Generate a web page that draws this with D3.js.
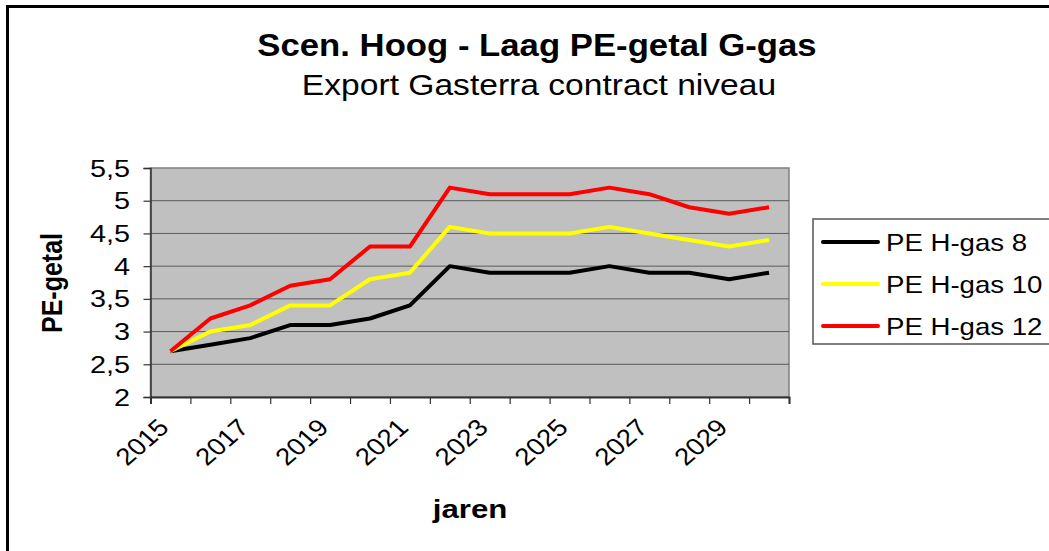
<!DOCTYPE html>
<html>
<head>
<meta charset="utf-8">
<script src="https://cdn.jsdelivr.net/npm/d3@7"></script>
<style>
  html, body { margin: 0; padding: 0; background: #fff; }
  svg { display: block; font-family: "Liberation Sans", Arial, sans-serif; }
</style>
</head>
<body>
<div id="vis"></div>
<script>
const years = [2015, 2016, 2017, 2018, 2019, 2020, 2021, 2022, 2023, 2024, 2025, 2026, 2027, 2028, 2029, 2030]
const tickYears = [2015, 2017, 2019, 2021, 2023, 2025, 2027, 2029]
const yTicks = [2, 2.5, 3, 3.5, 4, 4.5, 5, 5.5]
const seriesNames = ["PE H-gas 8", "PE H-gas 10", "PE H-gas 12"]
const seriesColors = ["#000000", "#ffff00", "#ff0000"]
const peGas8 = [2.7, 2.8, 2.9, 3.1, 3.1, 3.2, 3.4, 4.0, 3.9, 3.9, 3.9, 4.0, 3.9, 3.9, 3.8, 3.9]
const peGas10 = [2.7, 3.0, 3.1, 3.4, 3.4, 3.8, 3.9, 4.6, 4.5, 4.5, 4.5, 4.6, 4.5, 4.4, 4.3, 4.4]
const peGas12 = [2.7, 3.2, 3.4, 3.7, 3.8, 4.3, 4.3, 5.2, 5.1, 5.1, 5.1, 5.2, 5.1, 4.9, 4.8, 4.9]

const W = 1049, H = 551
const plot = {left: 150.5, right: 789, top: 168, bottom: 397}

const svg = d3.select('#vis')
    .append('svg')
    .attr('width', W)
    .attr('height', H)

// outer chart border (runs off the right and bottom edges)
svg.append('rect')
    .attr('x', 7.5)
    .attr('y', 6.5)
    .attr('width', 1100)
    .attr('height', 600)
    .attr('fill', 'none')
    .attr('stroke', '#000')
    .attr('stroke-width', 3)

const xScale = d3.scaleBand()
    .domain(years)
    .range([plot.left, plot.right])

const yScale = d3.scaleLinear()
    .domain([2, 5.5])
    .range([plot.bottom, plot.top])

// the original picture is stretched sideways, so text gets a horizontal scale
function addText(x, y, txt, size, opts = {}) {
    const sx = opts.stretch || 1.2
    return svg.append('text')
        .attr('transform', `translate(${x},${y}) scale(${sx},1)` + (opts.rotate ? ` rotate(${opts.rotate})` : ''))
        .attr('text-anchor', opts.anchor || 'middle')
        .attr('font-weight', opts.bold ? 'bold' : 'normal')
        .style('font-size', size + 'px')
        .attr('fill', '#000')
        .text(txt)
}

// plot area
svg.append('rect')
    .attr('x', plot.left)
    .attr('y', plot.top)
    .attr('width', plot.right - plot.left)
    .attr('height', plot.bottom - plot.top)
    .attr('fill', '#c0c0c0')
    .attr('stroke', '#808080')
    .attr('stroke-width', 1.5)

svg.selectAll('.grid')
    .data(yTicks.filter(d => d > 2 && d < 5.5))
    .enter()
    .append('line')
    .attr('class', 'grid')
    .attr('x1', plot.left)
    .attr('x2', plot.right)
    .attr('y1', d => yScale(d))
    .attr('y2', d => yScale(d))
    .attr('stroke', '#5a5a5a')
    .attr('stroke-width', 1)

// y axis
const yAxis = svg.append('g')
    .attr('transform', `translate(${plot.left},0)`)
    .call(d3.axisLeft(yScale).tickValues(yTicks).tickSize(7).tickFormat(''))
yAxis.select('.domain').attr('stroke', '#333').attr('stroke-width', 1.5)
yAxis.selectAll('.tick line').attr('stroke', '#333').attr('stroke-width', 1.2)

yTicks.forEach(v => {
    addText(130, yScale(v) + 8.5, String(v).replace('.', ','), 24, {anchor: 'end'})
})

// x axis: ticks between the categories
const xEdges = years.map(y => xScale(y)).concat([plot.right])
const xAxis = svg.append('g')
    .attr('transform', `translate(0,${plot.bottom})`)
    .call(d3.axisBottom(d3.scaleLinear().domain([plot.left, plot.right]).range([plot.left, plot.right]))
        .tickValues(xEdges).tickSize(7).tickFormat(''))
xAxis.select('.domain').attr('stroke', '#333').attr('stroke-width', 2)
xAxis.selectAll('.tick line').attr('stroke', '#333').attr('stroke-width', 1.2)

tickYears.forEach(yr => {
    addText(xScale(yr) + xScale.bandwidth() / 2, 429, yr, 24, {anchor: 'end', rotate: -45, stretch: 1.15})
})

// lines
const allSeries = [peGas8, peGas10, peGas12]
const line = d3.line()
    .x((d, i) => xScale(years[i]) + xScale.bandwidth() / 2)
    .y(d => yScale(d))

svg.selectAll('.line')
    .data(allSeries)
    .enter()
    .append('path')
    .attr('class', 'line')
    .attr('d', line)
    .attr('fill', 'none')
    .attr('stroke', (d, i) => seriesColors[i])
    .attr('stroke-width', 4)
    .attr('stroke-linejoin', 'round')

// titles
addText(537, 56, 'Scen. Hoog - Laag PE-getal G-gas', 31, {bold: true, stretch: 1.12})
addText(539, 95, 'Export Gasterra contract niveau', 30, {stretch: 1.12})
addText(470, 518, 'jaren', 26, {bold: true})
addText(62, 283, 'PE-getal', 25, {bold: true, rotate: -90})

// legend
svg.append('rect')
    .attr('x', 813)
    .attr('y', 219)
    .attr('width', 300)
    .attr('height', 125)
    .attr('fill', '#fff')
    .attr('stroke', '#555')
    .attr('stroke-width', 1.5)

seriesNames.forEach((name, i) => {
    const ly = 242 + i * 42
    svg.append('line')
        .attr('x1', 823)
        .attr('x2', 878)
        .attr('y1', ly)
        .attr('y2', ly)
        .attr('stroke', seriesColors[i])
        .attr('stroke-width', 4)
        .attr('stroke-linecap', 'round')
    addText(886, ly + 8.5, name, 24, {anchor: 'start', stretch: 1.15})
})
</script>
</body>
</html>
